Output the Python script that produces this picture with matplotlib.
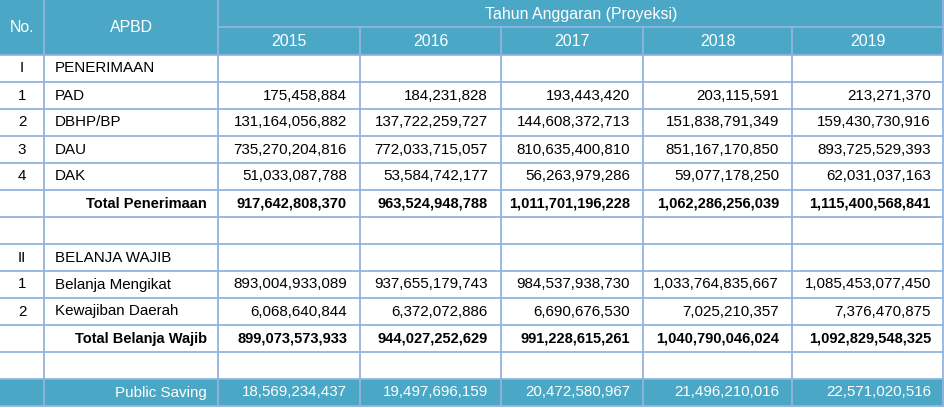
import matplotlib
matplotlib.use("Agg")
import matplotlib.pyplot as plt
from matplotlib.patches import Rectangle

plt.rcParams['font.family'] = ['Liberation Sans', 'DejaVu Sans']

# ===== data =====
years = ['2015', '2016', '2017', '2018', '2019']
header_no = 'No.'
header_apbd = 'APBD'
header_group = 'Tahun Anggaran (Proyeksi)'

row_no = ['I', '1', '2', '3', '4', '', '', 'II', '1', '2', '', '', '']
row_label = ['PENERIMAAN', 'PAD', 'DBHP/BP', 'DAU', 'DAK', 'Total Penerimaan', '',
             'BELANJA WAJIB', 'Belanja Mengikat', 'Kewajiban Daerah',
             'Total Belanja Wajib', '', 'Public Saving']
row_kind = ['section', 'item', 'item', 'item', 'item', 'total', 'blank',
            'section', 'item', 'item', 'total', 'blank', 'saving']

pad = ['175,458,884', '184,231,828', '193,443,420', '203,115,591', '213,271,370']
dbhp = ['131,164,056,882', '137,722,259,727', '144,608,372,713', '151,838,791,349', '159,430,730,916']
dau = ['735,270,204,816', '772,033,715,057', '810,635,400,810', '851,167,170,850', '893,725,529,393']
dak = ['51,033,087,788', '53,584,742,177', '56,263,979,286', '59,077,178,250', '62,031,037,163']
total_pen = ['917,642,808,370', '963,524,948,788', '1,011,701,196,228', '1,062,286,256,039', '1,115,400,568,841']
bel_mengikat = ['893,004,933,089', '937,655,179,743', '984,537,938,730', '1,033,764,835,667', '1,085,453,077,450']
kewajiban = ['6,068,640,844', '6,372,072,886', '6,690,676,530', '7,025,210,357', '7,376,470,875']
total_bel = ['899,073,573,933', '944,027,252,629', '991,228,615,261', '1,040,790,046,024', '1,092,829,548,325']
public_saving = ['18,569,234,437', '19,497,696,159', '20,472,580,967', '21,496,210,016', '22,571,020,516']
empty = [''] * 5

row_values = [empty, pad, dbhp, dau, dak, total_pen, empty,
              empty, bel_mengikat, kewajiban, total_bel, empty, public_saving]

# ===== layout (pixels) =====
W, H = 944, 408
col_x = [0, 44, 218, 360, 501, 643, 792, 944]
head_y = [0, 27, 55]
row_h = 27.0
HEAD = '#4aa8c6'
LINE = '#93b4de'
FS = 10.9      # regular text
FS_B = 10.5    # bold totals

fig = plt.figure(figsize=(W / 100, H / 100), dpi=100)
ax = fig.add_axes([0, 0, 1, 1])
ax.set_xlim(0, W)
ax.set_ylim(H, 0)
ax.axis('off')

# header background
ax.add_patch(Rectangle((0, 0), W, head_y[2], color=HEAD, lw=0))
ax.text((col_x[0] + col_x[1]) / 2, head_y[2] / 2, header_no, ha='center', va='center',
        color='white', fontsize=11.4)
ax.text((col_x[1] + col_x[2]) / 2, head_y[2] / 2, header_apbd, ha='center', va='center',
        color='white', fontsize=11.4)
ax.text((col_x[2] + col_x[-1]) / 2, head_y[1] / 2 + 1, header_group, ha='center', va='center',
        color='white', fontsize=11.4)
for j, yr in enumerate(years):
    ax.text((col_x[j + 2] + col_x[j + 3]) / 2, (head_y[1] + head_y[2]) / 2, yr,
            ha='center', va='center', color='white', fontsize=11.4)

# header lines
ax.plot([col_x[2], W], [head_y[1], head_y[1]], color=LINE, lw=1.3)
for x in col_x[1:3]:
    ax.plot([x, x], [0, head_y[2]], color=LINE, lw=1.3)
for x in col_x[3:-1]:
    ax.plot([x, x], [head_y[1], head_y[2]], color=LINE, lw=1.3)

# body rows
for i, kind in enumerate(row_kind):
    y0 = head_y[2] + i * row_h
    yc = y0 + row_h / 2
    txt_color = 'black'
    weight = 'normal'
    fs = FS
    if kind == 'saving':
        ax.add_patch(Rectangle((0, y0), W, row_h, color=HEAD, lw=0))
        txt_color = 'white'
    if kind == 'total':
        weight = 'bold'
        fs = FS_B
    if row_no[i]:
        ax.text((col_x[0] + col_x[1]) / 2, yc, row_no[i], ha='center', va='center',
                color=txt_color, fontsize=fs)
    if kind in ('total', 'saving'):
        ax.text(col_x[2] - 11, yc, row_label[i], ha='right', va='center',
                color=txt_color, fontsize=fs, fontweight=weight)
    elif row_label[i]:
        ax.text(col_x[1] + 11, yc, row_label[i], ha='left', va='center',
                color=txt_color, fontsize=fs)
    for j, val in enumerate(row_values[i]):
        if val:
            ax.text(col_x[j + 3] - 13, yc, val, ha='right', va='center',
                    color=txt_color, fontsize=fs, fontweight=weight)
    # horizontal line at bottom of row
    ax.plot([0, W], [y0 + row_h, y0 + row_h], color=LINE, lw=1.3)

# horizontal line under header
ax.plot([0, W], [head_y[2], head_y[2]], color=LINE, lw=1.3)

# vertical lines through body
body_top = head_y[2]
body_bot = head_y[2] + len(row_kind) * row_h
for x in col_x[1:-1]:
    ax.plot([x, x], [body_top, body_bot], color=LINE, lw=1.3)
ax.plot([W - 1.5, W - 1.5], [0, body_bot], color=LINE, lw=1.3)

fig.savefig('out.png', dpi=100)
